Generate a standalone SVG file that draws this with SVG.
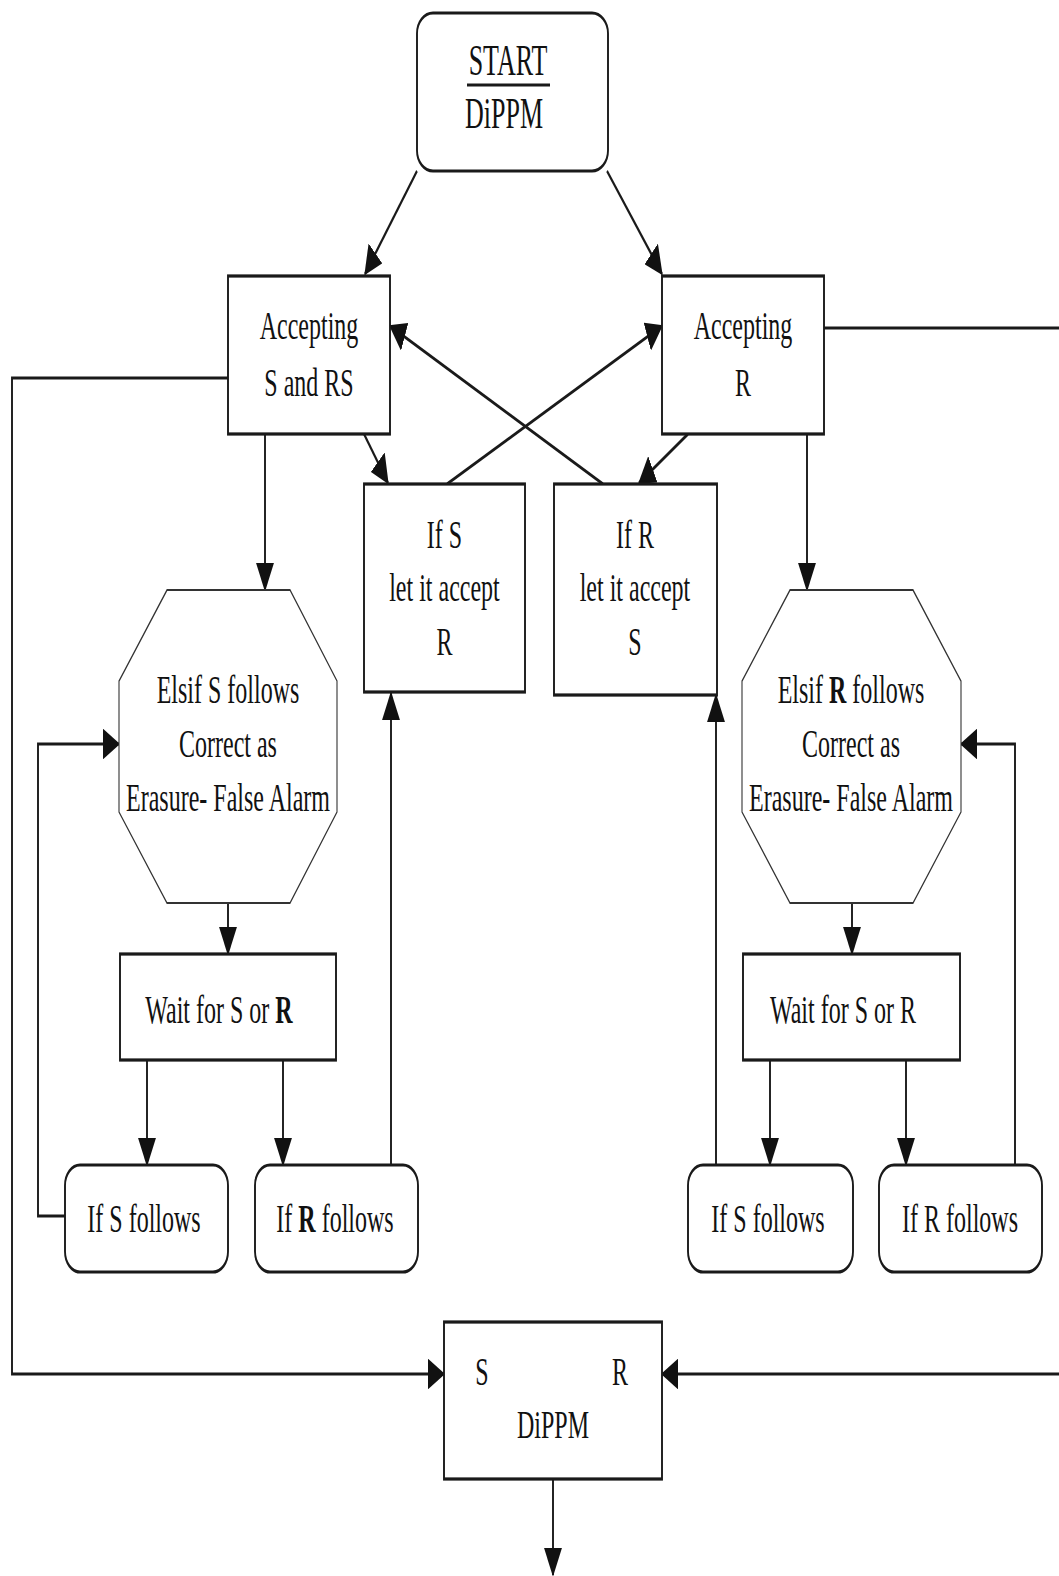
<svg xmlns="http://www.w3.org/2000/svg" width="1059" height="1576" viewBox="0 0 1059 1576">
<defs>
<style>
.box{fill:#fff;stroke:#1a1a1a;stroke-width:1.9}
.oct{fill:#fff;stroke:#333;stroke-width:1.1}
.t{font-family:"Liberation Serif","Times New Roman",serif;font-size:24px;fill:#111;text-anchor:middle}
.big{font-size:26px}
.b{font-weight:bold}
.c{fill:none;stroke:#1a1a1a;stroke-width:1.9;marker-end:url(#ah)}
.n{fill:none;stroke:#1a1a1a;stroke-width:1.9}
</style>
<marker id="ah" viewBox="0 0 17 18" refX="16" refY="9" markerWidth="17" markerHeight="18" markerUnits="userSpaceOnUse" orient="auto">
<path d="M0,0 L17,9 L0,18 z" fill="#111"/>
</marker>
</defs>
<rect x="0" y="0" width="1059" height="1576" fill="#fff"/>
<g transform="scale(1,1.7)">
<g id="connectors">
<path class="c" d="M417,100.59 L365,161.18"/>
<path class="c" d="M607,100.59 L662,161.18"/>
<path class="c" d="M364,255.29 L388,284.12"/>
<path class="c" d="M688,255.29 L639,284.12"/>
<path class="c" d="M447,284.71 L662,191.76"/>
<path class="c" d="M603,284.71 L390,191.76"/>
<path class="c" d="M265,255.29 V347.06"/>
<path class="c" d="M807,255.29 V347.06"/>
<path class="c" d="M228,531.18 V561.18"/>
<path class="c" d="M852,531.18 V561.18"/>
<path class="c" d="M147,623.53 V685.29"/>
<path class="c" d="M283,623.53 V685.29"/>
<path class="c" d="M770,623.53 V685.29"/>
<path class="c" d="M906,623.53 V685.29"/>
<path class="c" d="M65,715.29 H38 V437.65 H119"/>
<path class="c" d="M391,685.29 V407.65"/>
<path class="c" d="M716,685.29 V408.82"/>
<path class="c" d="M1015,685.29 V437.65 H961"/>
<path class="c" d="M228,222.35 H12 V808.24 H444"/>
<path class="c" d="M824,192.94 H1065 V808.24 H662"/>
<path class="c" d="M553,869.41 V926.5"/>
</g>
<g id="start">
<rect class="box" x="417" y="7.65" width="191" height="92.94" rx="16" ry="12"/>
<text class="t big" x="508" y="44.12">START</text>
<line class="n" x1="467" y1="50" x2="550" y2="50" stroke-width="2.2"/>
<text class="t big" x="504" y="75.29">DiPPM</text>
</g>
<g id="accS">
<rect class="box" x="228" y="162.35" width="162" height="92.94"/>
<text class="t" x="309" y="199.41">Accepting</text>
<text class="t" x="309" y="232.94">S and RS</text>
</g>
<g id="accR">
<rect class="box" x="662" y="162.35" width="162" height="92.94"/>
<text class="t" x="743" y="199.41">Accepting</text>
<text class="t" x="743" y="232.94">R</text>
</g>
<g id="ifS">
<rect class="box" x="364" y="284.71" width="161" height="122.35"/>
<text class="t" x="444.5" y="322.35">If S</text>
<text class="t" x="444.5" y="353.53">let it accept</text>
<text class="t" x="444.5" y="385.29">R</text>
</g>
<g id="ifR">
<rect class="box" x="554" y="284.71" width="163" height="124.12"/>
<text class="t" x="635" y="322.35">If R</text>
<text class="t" x="635" y="353.53">let it accept</text>
<text class="t" x="635" y="385.29">S</text>
</g>
<g id="octL">
<polygon class="oct" points="167,347.06 290,347.06 337,400.59 337,477.65 290,531.18 167,531.18 119,477.65 119,400.59"/>
<text class="t" x="228" y="413.53">Elsif S follows</text>
<text class="t" x="228" y="445.29">Correct as</text>
<text class="t" x="228" y="477.06">Erasure- False Alarm</text>
</g>
<g id="octR">
<polygon class="oct" points="790,347.06 913,347.06 961,400.59 961,477.65 913,531.18 790,531.18 742,477.65 742,400.59"/>
<text class="t" x="851" y="413.53">Elsif <tspan class="b">R</tspan> follows</text>
<text class="t" x="851" y="445.29">Correct as</text>
<text class="t" x="851" y="477.06">Erasure- False Alarm</text>
</g>
<g id="waitL">
<rect class="box" x="120" y="561.18" width="216" height="62.35"/>
<text class="t" x="219" y="601.76">Wait for S or <tspan class="b">R</tspan></text>
</g>
<g id="waitR">
<rect class="box" x="743" y="561.18" width="217" height="62.35"/>
<text class="t" x="843" y="601.76">Wait for S or R</text>
</g>
<g id="ifSfollowsL">
<rect class="box" x="65" y="685.29" width="163" height="62.94" rx="15" ry="12"/>
<text class="t" x="144" y="724.71">If S follows</text>
</g>
<g id="ifRfollowsL">
<rect class="box" x="255" y="685.29" width="163" height="62.94" rx="15" ry="12"/>
<text class="t" x="335" y="724.71">If <tspan class="b">R</tspan> follows</text>
</g>
<g id="ifSfollowsR">
<rect class="box" x="688" y="685.29" width="165" height="62.94" rx="15" ry="12"/>
<text class="t" x="768" y="724.71">If S follows</text>
</g>
<g id="ifRfollowsR">
<rect class="box" x="879" y="685.29" width="163" height="62.94" rx="15" ry="12"/>
<text class="t" x="960" y="724.71">If R follows</text>
</g>
<g id="dippm">
<rect class="box" x="444" y="777.65" width="218" height="92.35"/>
<text class="t" x="482" y="814.71">S</text>
<text class="t" x="620" y="814.71">R</text>
<text class="t" x="553" y="845.88">DiPPM</text>
</g>
</g>
</svg>
